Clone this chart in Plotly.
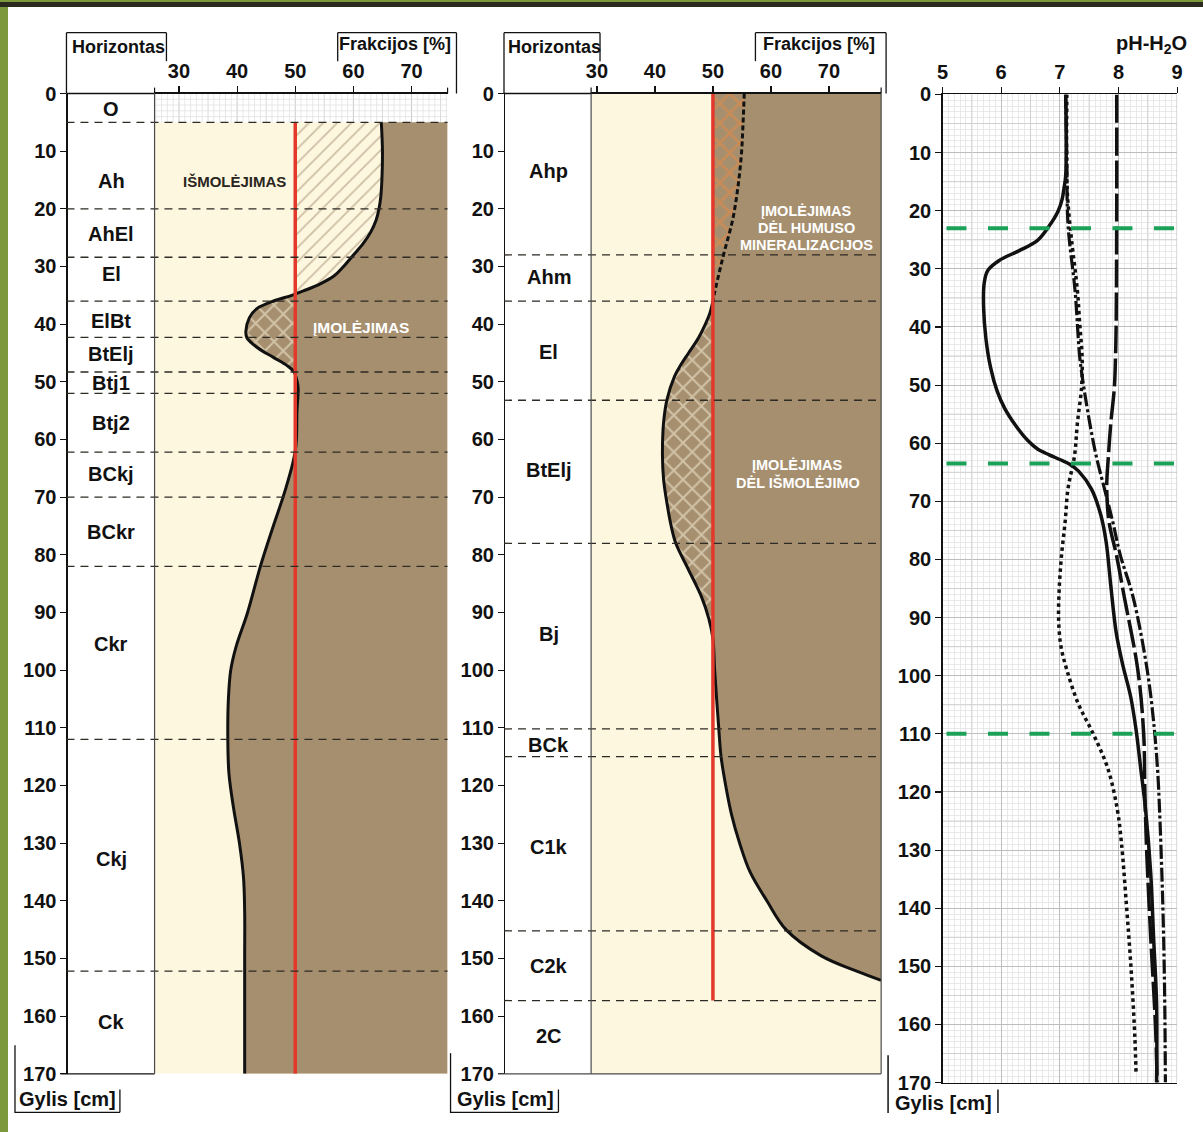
import plotly.graph_objects as go

# The page keeps the browser's default 8px body margin, so the figure is drawn
# inside it; every position below is given in reference-image pixels.
W, H = 1203, 1132
OX, OY = 8, 8
FW, FH = W - 2 * OX, H - 2 * OY

# ---------------- DATA ----------------
DEPTH_TICKS = [0, 10, 20, 30, 40, 50, 60, 70, 80, 90, 100, 110, 120, 130, 140, 150, 160, 170]
FRAC_TICKS = [30, 40, 50, 60, 70]
PH_TICKS = [5, 6, 7, 8, 9]
REF_PCT = 50

# left profile
L_HORIZONS = ["O", "Ah", "AhEl", "El", "ElBt", "BtElj", "Btj1", "Btj2", "BCkj", "BCkr", "Ckr", "Ckj", "Ck"]
L_LABEL_DEPTH = [2.7, 15.1, 24.3, 31.3, 39.4, 45.2, 50.2, 57.1, 66.0, 76.0, 95.5, 132.8, 161.0]
L_BOUNDS = [5, 20, 28.4, 36, 42.3, 48.3, 52, 62.2, 70, 82, 112, 152.2]
L_DEPTH = [5, 10, 15, 18, 20, 22, 24, 26, 28, 30, 31.6, 33, 34.2, 35.0, 35.9, 37.3, 38.9, 41.3, 42.4, 44,
           45.8, 47.2, 48.3, 49.8, 51.2, 55, 60, 62, 64, 67, 70, 76, 82, 90, 96, 100, 105, 112, 118, 124,
           130, 136, 142, 150, 170]
L_FRAC = [64.8, 65.0, 64.9, 64.7, 64.4, 63.9, 63.0, 61.7, 60.0, 58.3, 56.7, 54.3, 51.5, 49.4, 46.5, 43.4, 42.1, 41.5, 41.7, 43.4,
          46.3, 48.6, 49.8, 50.3, 50.5, 50.3, 50.2, 50.0, 49.6, 48.8, 47.9, 45.9, 44.0, 41.8, 39.8, 38.9, 38.5, 38.4, 38.6, 39.4,
          40.4, 41.1, 41.3, 41.3, 41.3]
L_RED_DEPTH = [5, 170]

# middle profile
M_HORIZONS = ["Ahp", "Ahm", "El", "BtElj", "Bj", "BCk", "C1k", "C2k", "2C"]
M_LABEL_DEPTH = [13.4, 31.8, 44.9, 65.3, 93.7, 112.9, 130.6, 151.3, 163.5]
M_BOUNDS = [28, 36, 53.2, 78, 110.2, 115, 145.2, 157.3]
M_HUMUS_DEPTH = [0, 5, 10.7, 16.3, 21.9, 27.7, 31, 34.5, 36]
M_HUMUS_FRAC = [55.4, 55.2, 54.9, 54.3, 53.4, 51.9, 51.1, 50.3, 50.0]
M_DEPTH = [36, 38, 40, 42.4, 45, 47, 49, 53, 57, 62.8, 67, 71.2, 75, 78, 82.6, 87.2, 91.1, 94.5, 100, 110,
           115, 120, 125, 130, 135, 140, 145, 149.5, 152.3, 153.8]
M_FRAC = [50, 49.5, 48.7, 47.5, 45.8, 44.5, 43.4, 42.1, 41.5, 41.3, 41.5, 42.1, 42.8, 43.6, 45.8, 48.0, 49.3, 50.0, 50.3, 51.0,
          51.4, 52.2, 53.2, 54.6, 56.4, 59.3, 62.6, 68.6, 75.0, 79.0]
M_RED_DEPTH = [0, 157.3]

# pH profile
PH_BOUNDS = [23, 63.5, 110]
PH_SOLID_DEPTH = [0, 14, 16.2, 18, 20.1, 22.9, 25.2, 26.9, 28.6, 30.3, 32.5, 36.5, 42, 47, 51, 54, 57, 59.5, 61, 62,
                  62.8, 63.6, 64.8, 67.9, 72.4, 77, 84.6, 92.5, 98, 103.7, 109.3, 116, 122.8, 134, 145.3, 156.5, 170]
PH_SOLID = [7.1, 7.1, 7.07, 7.04, 6.97, 6.8, 6.61, 6.3, 5.96, 5.77, 5.71, 5.7, 5.74, 5.82, 5.93, 6.06, 6.25, 6.45, 6.62, 6.82,
            7.0, 7.17, 7.32, 7.54, 7.7, 7.79, 7.87, 7.96, 8.07, 8.21, 8.3, 8.38, 8.46, 8.55, 8.6, 8.65, 8.65]
PH_DOT_DEPTH = [0, 15, 20, 25, 33.8, 39.5, 45.2, 50.5, 56.5, 62.2, 67.8, 73.6, 79.2, 85, 90.5, 95, 99, 104.7, 110, 116,
                123, 128.7, 140, 151.2, 162.4, 168.5]
PH_DOT = [7.12, 7.12, 7.15, 7.2, 7.3, 7.34, 7.38, 7.37, 7.3, 7.25, 7.14, 7.09, 7.03, 6.99, 6.98, 7.02, 7.12, 7.31, 7.57, 7.82,
          7.98, 8.05, 8.14, 8.22, 8.28, 8.3]
PH_DASHDOT_DEPTH = [0, 11, 22.4, 33.8, 45.2, 50.4, 56.5, 62.2, 67.8, 73.4, 79.2, 86.5, 99, 109, 116.7, 123, 134, 145, 157, 170]
PH_DASHDOT = [7.1, 7.12, 7.14, 7.26, 7.34, 7.41, 7.51, 7.62, 7.76, 7.9, 8.03, 8.25, 8.49, 8.61, 8.67, 8.7, 8.74, 8.77, 8.79, 8.8]
PH_DASH_DEPTH = [0, 20, 40, 45, 50.4, 56.5, 62, 67.6, 73.6, 79, 86.5, 99, 110, 120, 130, 145, 160, 170]
PH_DASH = [7.97, 7.97, 7.96, 7.95, 7.93, 7.87, 7.83, 7.8, 7.84, 7.96, 8.1, 8.33, 8.43, 8.45, 8.48, 8.55, 8.63, 8.66]

# ---------------- STYLE ----------------
FONT = "Liberation Sans, Arial, Helvetica, sans-serif"
CREAM = "#FDF7DF"
BROWN = "#A68F6F"
HATCH = "#9C8566"
RED = "#E2392B"
ORANGE = "#F0883C"
GREEN = "#1BA158"
INK = "#111111"

L_XR = [25.8, 76.2]
M_XR = [29.0, 79.0]


def PX(x):
    return (x - OX) / FW


def PY(y):
    return 1 - (y - OY) / FH


fig = go.Figure()


def add(xa, ya, **kw):
    kw.setdefault("mode", "lines")
    fig.add_trace(go.Scatter(xaxis=xa, yaxis=ya, hoverinfo="skip", showlegend=False, **kw))


def fill_between(xa, ya, edge_x, edge_y, cx, cy, **kw):
    add(xa, ya, x=edge_x, y=edge_y, line=dict(width=0, color="rgba(0,0,0,0)"))
    add(xa, ya, x=cx, y=cy, fill="tonextx", line_shape="spline", line=dict(width=0, color="rgba(0,0,0,0)"), **kw)


# ---------- left panel ----------
fill_between("x", "y", [L_XR[1], L_XR[1]], [L_DEPTH[0], L_DEPTH[-1]], L_FRAC, L_DEPTH, fillcolor=BROWN)
i1 = next(i for i, v in enumerate(L_FRAC) if v < REF_PCT)
i2 = next(i for i in range(i1, len(L_FRAC)) if L_FRAC[i] >= REF_PCT)
fill_between("x", "y", [REF_PCT, REF_PCT], [L_DEPTH[0], L_DEPTH[i1]], L_FRAC[:i1 + 1], L_DEPTH[:i1 + 1],
             fillcolor=CREAM,
             fillpattern=dict(shape="/", bgcolor=CREAM, fgcolor=HATCH, size=10, solidity=0.18))
fill_between("x", "y", [REF_PCT, REF_PCT], [L_DEPTH[i1], L_DEPTH[i2]], L_FRAC[i1:i2 + 1], L_DEPTH[i1:i2 + 1],
             fillcolor=BROWN,
             fillpattern=dict(shape="x", bgcolor=BROWN, fgcolor=CREAM, size=13, solidity=0.28))
add("x", "y", x=L_FRAC, y=L_DEPTH, line_shape="spline", line=dict(color=INK, width=3))
add("x", "y", x=[REF_PCT, REF_PCT], y=L_RED_DEPTH, line=dict(color=RED, width=3.5))

# ---------- middle panel ----------
fill_between("x2", "y2", [M_XR[1], M_XR[1]], [0, M_DEPTH[-1]], [REF_PCT] + M_FRAC, [0] + M_DEPTH, fillcolor=BROWN)
fill_between("x2", "y2", [REF_PCT, REF_PCT], [M_HUMUS_DEPTH[0], M_HUMUS_DEPTH[-1]], M_HUMUS_FRAC, M_HUMUS_DEPTH,
             fillcolor=BROWN,
             fillpattern=dict(shape="x", bgcolor=BROWN, fgcolor=ORANGE, size=14, solidity=0.3))
j2 = next(i for i in range(2, len(M_FRAC)) if M_FRAC[i] >= REF_PCT)
fill_between("x2", "y2", [REF_PCT, REF_PCT], [M_DEPTH[0], M_DEPTH[j2]], M_FRAC[:j2 + 1], M_DEPTH[:j2 + 1],
             fillcolor=BROWN,
             fillpattern=dict(shape="x", bgcolor=BROWN, fgcolor=CREAM, size=13, solidity=0.28))
add("x2", "y2", x=M_FRAC, y=M_DEPTH, line_shape="spline", line=dict(color=INK, width=3))
add("x2", "y2", x=M_HUMUS_FRAC, y=M_HUMUS_DEPTH, line_shape="spline", line=dict(color=INK, width=3, dash="5px,3px"))
add("x2", "y2", x=[REF_PCT, REF_PCT], y=M_RED_DEPTH, line=dict(color=RED, width=3.5))

# ---------- pH panel ----------
add("x3", "y3", x=PH_DOT, y=PH_DOT_DEPTH, line_shape="spline", line=dict(color=INK, width=3.5, dash="3.5px,3.5px"))
add("x3", "y3", x=PH_DASH, y=PH_DASH_DEPTH, line_shape="spline", line=dict(color=INK, width=3.5, dash="28px,5px"))
add("x3", "y3", x=PH_DASHDOT, y=PH_DASHDOT_DEPTH, line_shape="spline", line=dict(color=INK, width=3.2, dash="14px,3px,3px,3px"))
add("x3", "y3", x=PH_SOLID, y=PH_SOLID_DEPTH, line_shape="spline", line=dict(color=INK, width=3.5))

# ---------------- AXES ----------------
tickfont = dict(family=FONT, size=20, color=INK, weight="bold")
common_x = dict(side="top", tickvals=FRAC_TICKS, ticks="outside", ticklen=6, tickwidth=1.2, tickcolor=INK,
                showline=True, linecolor=INK, linewidth=1.3, showgrid=False, zeroline=False, tickfont=tickfont,
                fixedrange=True)
common_y = dict(range=[170, 0], tickvals=DEPTH_TICKS, ticks="outside", ticklen=6, tickwidth=1.2, tickcolor=INK,
                showline=True, linecolor=INK, linewidth=1.3, showgrid=False, zeroline=False, tickfont=tickfont,
                fixedrange=True)

fig.update_layout(
    width=FW, height=FH, margin=dict(l=0, r=0, t=0, b=0), autosize=False,
    paper_bgcolor="white", plot_bgcolor="rgba(0,0,0,0)", hovermode=False, showlegend=False,
    xaxis=dict(domain=[PX(150), PX(446)], range=L_XR, anchor="y", **common_x),
    yaxis=dict(domain=[PY(1084), PY(84)], anchor="free", position=PX(61), **common_y),
    xaxis2=dict(domain=[PX(591), PX(884)], range=M_XR, anchor="y2", **common_x),
    yaxis2=dict(domain=[PY(1084), PY(84)], anchor="free", position=PX(503), **common_y),
    xaxis3=dict(domain=[PX(946), PX(1183)], range=[5, 9], anchor="y3", side="top", tickvals=PH_TICKS,
                ticks="outside", ticklen=6, tickwidth=1.2, tickcolor=INK, showline=True, mirror=True,
                linecolor=INK, linewidth=1.3, showgrid=True, gridcolor="#BDBDBD", gridwidth=1, zeroline=False,
                tickfont=tickfont, fixedrange=True,
                minor=dict(dtick=0.1, showgrid=True, gridcolor="#E4E4E4", gridwidth=0.8)),
    yaxis3=dict(domain=[PY(1093), PY(85)], anchor="x3", range=[170, 0], tickvals=DEPTH_TICKS, ticks="outside",
                ticklen=6, tickwidth=1.2, tickcolor=INK, showline=True, linecolor=INK, linewidth=1.3,
                showgrid=True, gridcolor="#BDBDBD", gridwidth=1, zeroline=False, tickfont=tickfont,
                fixedrange=True, minor=dict(dtick=1, showgrid=True, gridcolor="#E4E4E4", gridwidth=0.8)),
)

# ---------------- SHAPES ----------------
def pline(x0, y0, x1, y1, color=INK, width=1.3, layer="above"):
    fig.add_shape(type="line", xref="paper", yref="paper", x0=PX(x0), y0=PY(y0), x1=PX(x1), y1=PY(y1),
                  line=dict(color=color, width=width), layer=layer)


# cream backgrounds
fig.add_shape(type="rect", xref="x", yref="y", x0=L_XR[0], x1=L_XR[1], y0=L_DEPTH[0], y1=170,
              fillcolor=CREAM, line=dict(width=0), layer="below")
fig.add_shape(type="rect", xref="x2", yref="y2", x0=M_XR[0], x1=M_XR[1], y0=0, y1=170,
              fillcolor=CREAM, line=dict(width=0), layer="below")

# graph paper in O horizon (left panel)
for v in range(26, 77):
    c = "#BDBDBD" if v % 10 == 0 else ("#CFCFCF" if v % 5 == 0 else "#E2E2E2")
    fig.add_shape(type="line", xref="x", yref="y", x0=v, x1=v, y0=0, y1=L_DEPTH[0],
                  line=dict(color=c, width=0.8), layer="below")
for d in [1, 2, 3, 4]:
    fig.add_shape(type="line", xref="x", yref="y", x0=L_XR[0], x1=L_XR[1], y0=d, y1=d,
                  line=dict(color="#E2E2E2", width=0.8), layer="below")

# medium grid in pH panel
for v in [5.5, 6.5, 7.5, 8.5]:
    fig.add_shape(type="line", xref="x3", yref="y3", x0=v, x1=v, y0=0, y1=170,
                  line=dict(color="#D0D0D0", width=1), layer="between")
for d in range(5, 170, 10):
    fig.add_shape(type="line", xref="x3", yref="y3", x0=5, x1=9, y0=d, y1=d,
                  line=dict(color="#D0D0D0", width=1), layer="between")
fig.add_shape(type="line", xref="x3", yref="y3", x0=9, x1=9, y0=0, y1=170,
              line=dict(color="#BDBDBD", width=1.2), layer="between")

# horizon boundaries
for d in L_BOUNDS:
    fig.add_shape(type="line", xref="paper", yref="y", x0=PX(61), x1=PX(446), y0=d, y1=d,
                  line=dict(color="#2E2A24", width=1.3, dash="8px,6px"), layer="above")
for d in M_BOUNDS:
    fig.add_shape(type="line", xref="paper", yref="y2", x0=PX(503), x1=PX(884), y0=d, y1=d,
                  line=dict(color="#2E2A24", width=1.3, dash="8px,6px"), layer="above")
for d in PH_BOUNDS:
    fig.add_shape(type="line", xref="paper", yref="y3", x0=PX(950), x1=PX(1181), y0=d, y1=d,
                  line=dict(color=GREEN, width=4, dash="20px,21.5px"), layer="above")

# frames and label boxes - left
pline(61, 22, 61, 84); pline(61, 22, 162, 22); pline(162, 22, 162, 51)
pline(335, 51, 335, 22); pline(335, 22, 455, 22); pline(455, 22, 455, 84)
pline(61, 84, 150, 84); pline(55, 1084, 150, 1084)
pline(150, 78, 150, 84, width=1.2); pline(446, 78, 446, 84, width=1.2)
pline(150, 84, 150, 1084, color="#4A4A4A", width=1.2)
pline(9, 1055, 9, 1124); pline(9, 1123.3, 115, 1123.3); pline(115, 1123.3, 115, 1100)
# middle
pline(503, 22, 503, 84); pline(503, 22, 600, 22); pline(600, 22, 600, 51)
pline(757, 51, 757, 22); pline(757, 22, 889, 22); pline(889, 22, 889, 84)
pline(503, 84, 591, 84); pline(497, 1084, 884, 1084, color="#4A4A4A", width=1.2)
pline(591, 78, 591, 84, width=1.2); pline(884, 78, 884, 84, width=1.2)
pline(591, 84, 591, 1084, color="#4A4A4A", width=1.2); pline(884, 84, 884, 1084, color="#4A4A4A", width=1.2)
pline(449, 1063, 449, 1124); pline(449, 1123.3, 558, 1123.3); pline(558, 1123.3, 558, 1100)
# right
pline(891, 1065, 891, 1124, width=1.5); pline(1002, 1100, 1002, 1124, width=1.5)

# ---------------- TEXT ----------------
def text(x, y, s, size, color=INK, xanchor="center", yref="paper"):
    fig.add_annotation(x=PX(x), y=(PY(y) if yref == "paper" else y), xref="paper", yref=yref,
                       text="<b>" + s + "</b>", showarrow=False, xanchor=xanchor, yanchor="middle",
                       font=dict(family=FONT, size=size, color=color))

for name, d in zip(L_HORIZONS, L_LABEL_DEPTH):
    text(106, d, name, 20, yref="y")
for name, d in zip(M_HORIZONS, M_LABEL_DEPTH):
    text(548, d, name, 20, yref="y2")

text(65, 37, "Horizontas", 18, xanchor="left")
text(334, 33, "Frakcijos [%]", 18, xanchor="left")
text(505, 37, "Horizontas", 18, xanchor="left")
text(763, 34, "Frakcijos [%]", 18, xanchor="left")
text(1195, 34, "pH-H<sub>2</sub>O", 20, xanchor="right")
text(11, 1110, "Gylis [cm]", 20, xanchor="left")
text(454, 1110, "Gylis [cm]", 20, xanchor="left")
text(896, 1114, "Gylis [cm]", 20, xanchor="left")

text(231, 174, "IŠMOLĖJIMAS", 15, color="#2A2520")
text(359, 323, "ĮMOLĖJIMAS", 15.5, color="white")
text(809, 204, "ĮMOLĖJIMAS", 14.5, color="white")
text(809, 221, "DĖL HUMUSO", 14.5, color="white")
text(809, 239, "MINERALIZACIJOS", 14.5, color="white")
text(800, 463, "ĮMOLĖJIMAS", 14.5, color="white")
text(800, 481, "DĖL IŠMOLĖJIMO", 14.5, color="white")

# paints the page border strips into the body margin (layout is unchanged either way)
BORDER_CSS = ("linear-gradient(to bottom, #7C9A3B 0px, #7C9A3B 2.4px, #2B2A1E 2.4px, #2B2A1E 6.6px, "
              "rgba(0,0,0,0) 6.6px), linear-gradient(to right, #7C9A3B 0px, #7C9A3B 8px, #ffffff 8px)")
fig.write_html("out.html", config={"displayModeBar": False, "staticPlot": True},
               post_script="document.body.style.background='" + BORDER_CSS + "';")
